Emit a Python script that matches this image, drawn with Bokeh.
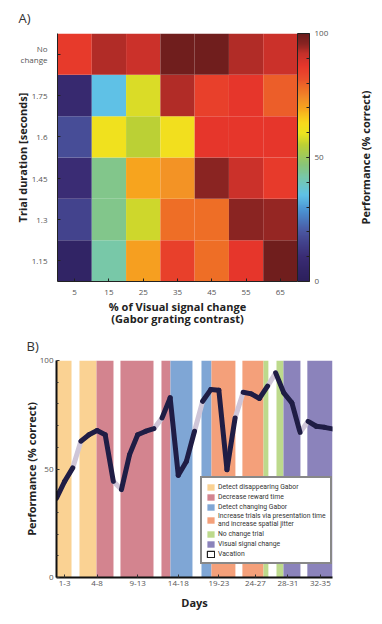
import numpy as np
from bokeh.plotting import figure
from bokeh.models import (ColumnDataSource, LinearColorMapper, ColorBar, FixedTicker,
                          Range1d, Title, Legend, LegendItem, Spacer)
from bokeh.layouts import column, row
from bokeh.transform import transform
from bokeh.embed import file_html
from bokeh.resources import INLINE

FONT = "Open Sans"

# ---------------- Panel A data ----------------
contrast = [5, 15, 25, 35, 45, 55, 65]
durations = ["1.15", "1.3", "1.45", "1.6", "1.75", "No\nchange"]
perf_nochange = [86, 93, 91, 99, 99, 93, 91]
perf_175 = [8, 35, 58, 93, 85, 87, 80]
perf_16 = [18, 61, 55, 62, 87, 87, 87]
perf_145 = [10, 45, 70, 73, 96, 91, 86]
perf_13 = [16, 45, 57, 78, 78, 96, 95]
perf_115 = [4, 42, 71, 85, 78, 87, 99]

# ---------------- Panel B data ----------------
days = list(range(1, 36))
performance = [36.6, 44.3, 50.5, 62.8, 65.8, 67.7, 65.8, 44.3, 40.5, 56.6,
               65.8, 67.4, 68.6, 73.5, 82.8, 47.1, 53.5, 67.4, 81.2, 86.6,
               86.3, 49.7, 73.5, 85.4, 84.6, 82.5, 88.2, 94.3, 85.1, 80.5,
               66.9, 72.0, 69.7, 69.2, 68.5]
phase_names = ["Detect disappearing Gabor", "Decrease reward time", "Detect changing Gabor",
               "Increase trials via presentation time\nand increase spatial jitter",
               "No change trial", "Visual signal change"]
phase_colors = ["#fad293", "#d3848f", "#7fa6d5", "#f4a07a", "#bdda8c", "#8b83bb"]
band_phase = [0, 0, 1, 1, 1, 2, 2, 3, 3, 4, 4, 5, 5]
band_start = [1.0, 3.83, 5.93, 8.88, 13.93, 15.04, 18.86, 20.09, 23.9, 26.5, 28.1, 28.96, 31.9]
band_end = [2.85, 5.93, 8.02, 12.95, 15.04, 17.75, 20.09, 23.04, 26.5, 27.1, 28.96, 31.05, 35.0]
day_tick_pos = [2, 6, 11, 16, 21, 25.5, 29.5, 33.5]
day_tick_labels = ["1-3", "4-8", "9-13", "14-18", "19-23", "24-27", "28-31", "32-35"]

# ---------------- palette (jet-like) ----------------
anchors = [(0, "#2c1f5c"), (10, "#3a2c74"), (20, "#4a55a0"), (28, "#4a8fd0"), (35, "#5fc2e6"),
           (42, "#78c8a8"), (47, "#88c47a"), (55, "#bcd034"), (60, "#ede41f"), (64, "#f8da1c"),
           (70, "#f7a51e"), (74, "#f28c28"), (78, "#ee6e26"), (82, "#ea4f2c"), (87, "#e6362b"),
           (92, "#c4302a"), (96, "#8b2422"), (100, "#6a1c1c")]
def hex2rgb(h):
    return [int(h[i:i + 2], 16) for i in (1, 3, 5)]
ax_pos = np.array([a[0] for a in anchors], float)
ax_rgb = np.array([hex2rgb(a[1]) for a in anchors], float)
grid = np.linspace(0, 100, 256)
palette = []
for g in grid:
    c = [int(round(np.interp(g, ax_pos, ax_rgb[:, k]))) for k in range(3)]
    palette.append("#%02x%02x%02x" % tuple(c))

# ---------------- Panel A ----------------
rows = [perf_115, perf_13, perf_145, perf_16, perf_175, perf_nochange]
hx, hy, hv = [], [], []
for j, r_ in enumerate(rows):
    for c, v in zip(contrast, r_):
        hx.append(c); hy.append(j); hv.append(v)
src_a = ColumnDataSource(dict(x=hx, y=hy, v=hv))
mapper = LinearColorMapper(palette=palette, low=0, high=100)
cstep = contrast[1] - contrast[0]

p1 = figure(x_range=Range1d(contrast[0] - cstep / 2, contrast[-1] + cstep / 2),
            y_range=Range1d(-0.5, len(durations) - 0.5), frame_width=240, frame_height=248,
            output_backend="svg", toolbar_location=None,
            min_border_left=0, min_border_top=0, min_border_bottom=0, min_border_right=0)
p1.rect(x="x", y="y", width=cstep, height=1, source=src_a,
        fill_color=transform("v", mapper), line_color=None)
p1.outline_line_color = None
p1.grid.visible = False
p1.xaxis.ticker = FixedTicker(ticks=contrast)
p1.yaxis.ticker = FixedTicker(ticks=list(range(len(durations))))
p1.yaxis.major_label_overrides = {i: d for i, d in enumerate(durations)}
for ax in (p1.xaxis[0], p1.yaxis[0]):
    ax.axis_line_color = "#222222"
    ax.major_tick_in = 3
    ax.major_tick_out = 0
    ax.minor_tick_line_color = None
    ax.major_tick_line_color = "#222222"
    ax.major_label_text_font = FONT
    ax.major_label_text_font_size = "8px"
    ax.major_label_text_color = "#555555"
    ax.axis_label_text_font = FONT
    ax.axis_label_text_font_style = "bold"
    ax.axis_label_text_font_size = "11px"
    ax.axis_label_text_color = "#222222"
    ax.axis_label_text_line_height = 0.8
    ax.major_label_text_line_height = 1.0
p1.xaxis.axis_label = "% of Visual signal change\n(Gabor grating contrast)"
p1.yaxis.axis_label = "Trial duration [seconds]"
p1.yaxis.major_label_standoff = 10
p1.yaxis.axis_label_standoff = -12
p1.xaxis.major_label_standoff = 8
p1.xaxis.axis_label_standoff = 1

cb = ColorBar(color_mapper=mapper, width=12, padding=0, margin=0,
              ticker=FixedTicker(ticks=[0, 50, 100], minor_ticks=list(range(10, 100, 10))),
              major_label_text_font=FONT, major_label_text_font_size="8px",
              major_label_text_color="#555555", bar_line_color="#222222",
              major_tick_line_color="#222222", minor_tick_line_color="#222222",
              major_tick_in=3, major_tick_out=0, minor_tick_in=3, minor_tick_out=0,
              label_standoff=5)
p1.add_layout(cb, "right")
p1.add_layout(Title(text="A)", align="left", offset=-39, text_font=FONT,
                    text_font_size="13px", text_font_style="normal", standoff=13,
                    text_color="#333333"), "above")

# colour-bar caption (reads bottom-to-top like a left-side title)
pl = figure(frame_width=1, frame_height=248, output_backend="svg", toolbar_location=None,
            x_axis_location=None, y_axis_location=None,
            min_border_left=0, min_border_right=0, min_border_top=0, min_border_bottom=0)
pl.outline_line_color = None
pl.grid.visible = False
pl.add_layout(Title(text="Performance (% correct)", align="center", standoff=2,
                    text_font=FONT, text_font_style="bold", text_font_size="11px",
                    text_color="#222222"), "left")

# ---------------- Panel B ----------------
p2 = figure(x_range=Range1d(1, 35), y_range=Range1d(0, 100), frame_width=276, frame_height=217,
            output_backend="svg", toolbar_location=None,
            min_border_left=0, min_border_top=0, min_border_bottom=8, min_border_right=10)
p2.outline_line_color = None
p2.grid.visible = False

items = []
for k, name in enumerate(phase_names):
    idx = [i for i, ph in enumerate(band_phase) if ph == k]
    s = ColumnDataSource(dict(left=[band_start[i] for i in idx], right=[band_end[i] for i in idx],
                              bottom=[0] * len(idx), top=[100] * len(idx)))
    r = p2.quad(left="left", right="right", bottom="bottom", top="top", source=s,
                fill_color=phase_colors[k], line_color=None)
    items.append(LegendItem(label=name, renderers=[r]))
vac = p2.quad(left=[np.nan], right=[np.nan], bottom=[np.nan], top=[np.nan], fill_color="white",
              line_color="#222222", line_width=1.2)
items.append(LegendItem(label="Vacation", renderers=[vac]))

def in_band(x):
    return any(s <= x <= e for s, e in zip(band_start, band_end))

gx0, gy0, gx1, gy1, dx0, dy0, dx1, dy1 = [], [], [], [], [], [], [], []
for i in range(len(days) - 1):
    mid = 0.5 * (days[i] + days[i + 1])
    if in_band(mid):
        dx0.append(days[i]); dy0.append(performance[i]); dx1.append(days[i + 1]); dy1.append(performance[i + 1])
    else:
        gx0.append(days[i]); gy0.append(performance[i]); gx1.append(days[i + 1]); gy1.append(performance[i + 1])
p2.segment(gx0, gy0, gx1, gy1, line_color="#cfc6d8", line_width=5, line_cap="round")
p2.segment(dx0, dy0, dx1, dy1, line_color="#1f1d45", line_width=5, line_cap="round")

legend = Legend(items=items, location=(144, 13), border_line_color="#111111",
                border_line_width=2.5, background_fill_color="white", background_fill_alpha=1,
                label_text_font="Roboto", label_text_font_size="6.8px", label_text_color="#333333",
                label_text_line_height=1.0,
                glyph_width=9, glyph_height=8, label_height=9, spacing=1, padding=4,
                label_standoff=3, margin=0)
p2.add_layout(legend)

for ax in (p2.xaxis[0], p2.yaxis[0]):
    ax.axis_line_color = "#111111"
    ax.axis_line_width = 2
    ax.major_tick_in = 3
    ax.major_tick_out = 0
    ax.minor_tick_in = 2
    ax.minor_tick_out = 0
    ax.major_tick_line_color = "#333333"
    ax.minor_tick_line_color = "#333333"
    ax.major_label_text_font = FONT
    ax.major_label_text_font_size = "8px"
    ax.major_label_text_color = "#555555"
    ax.axis_label_text_font = FONT
    ax.axis_label_text_font_style = "bold"
    ax.axis_label_text_font_size = "11px"
    ax.axis_label_text_color = "#222222"
    ax.major_label_standoff = 3
    ax.axis_label_standoff = 6
p2.yaxis.axis_label_standoff = -2
p2.yaxis.ticker = FixedTicker(ticks=[0, 50, 100], minor_ticks=list(range(10, 100, 10)))
p2.xaxis.ticker = FixedTicker(ticks=day_tick_pos)
p2.xaxis.major_label_overrides = {float(t): l for t, l in zip(day_tick_pos, day_tick_labels)}
p2.xaxis.axis_label = "Days"
p2.yaxis.axis_label = "Performance (% correct)"
p2.add_layout(Title(text="B)", align="left", offset=-30, text_font=FONT,
                    text_font_size="13px", text_font_style="normal", standoff=12,
                    text_color="#333333"), "above")

layout = column(row(Spacer(width=11), p1, Spacer(width=23), pl, spacing=0),
                row(Spacer(width=20), p2, spacing=0), spacing=0)
open("out.html", "w").write(file_html(layout, INLINE))
